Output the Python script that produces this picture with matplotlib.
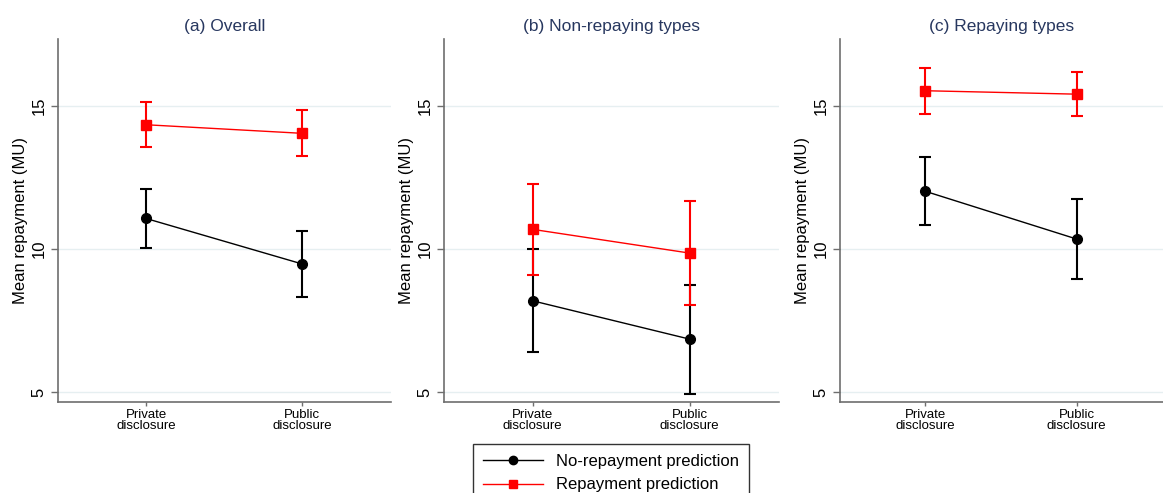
import matplotlib
matplotlib.use("Agg")
import matplotlib.pyplot as plt
from matplotlib.lines import Line2D

plt.rcParams['font.family'] = ['Liberation Sans', 'DejaVu Sans']

categories = ["Private\ndisclosure", "Public\ndisclosure"]
titles = ["(a) Overall", "(b) Non-repaying types", "(c) Repaying types"]
series_names = ["No-repayment prediction", "Repayment prediction"]

# No-repayment prediction (black): mean, lower CI, upper CI per panel
norep_mean = [[11.07, 9.48], [8.19, 6.85], [12.02, 10.35]]
norep_lo = [[10.05, 8.32], [6.40, 4.93], [10.83, 8.94]]
norep_hi = [[12.10, 10.65], [10.00, 8.76], [13.21, 11.74]]

# Repayment prediction (red)
rep_mean = [[14.35, 14.05], [10.69, 9.86], [15.54, 15.42]]
rep_lo = [[13.58, 13.24], [9.10, 8.06], [14.74, 14.64]]
rep_hi = [[15.14, 14.88], [12.28, 11.69], [16.35, 16.19]]

yticks = [5, 10, 15]

W, H = 1163, 493
fig = plt.figure(figsize=(W / 100, H / 100), dpi=100)

boxes = [(58, 391), (444, 779), (840, 1163)]
top_px, bot_px = 39, 402
title_col = "#27375f"
spine_col = "#6e6e6e"

x = [1, 2]
for i, (l, r) in enumerate(boxes):
    ax = fig.add_axes([l / W, 1 - bot_px / H, (r - l) / W, (bot_px - top_px) / H])
    for y in yticks:
        ax.axhline(y, color="#e6eff1", lw=1.0, zorder=0)
    m, lo, hi = norep_mean[i], norep_lo[i], norep_hi[i]
    ax.errorbar(x, m, yerr=[[m[k] - lo[k] for k in range(2)], [hi[k] - m[k] for k in range(2)]],
                color="black", marker="o", markersize=7, lw=1.0, elinewidth=1.5,
                capsize=4, capthick=1.5, zorder=3)
    m, lo, hi = rep_mean[i], rep_lo[i], rep_hi[i]
    ax.errorbar(x, m, yerr=[[m[k] - lo[k] for k in range(2)], [hi[k] - m[k] for k in range(2)]],
                color="red", marker="s", markersize=7, lw=1.0, elinewidth=1.5,
                capsize=4, capthick=1.5, zorder=4)
    ax.set_xlim(0.435, 2.57)
    ax.set_ylim(4.65, 17.35)
    ax.set_xticks(x)
    ax.set_xticklabels(categories, fontsize=9.5, linespacing=0.95)
    ax.set_yticks(yticks)
    ax.set_yticklabels([str(v) for v in yticks], rotation=90, va="center", fontsize=12)
    ax.tick_params(axis="y", length=5, width=1, color=spine_col, pad=3)
    ax.tick_params(axis="x", length=3, width=1, color=spine_col, pad=2)
    for s in ["top", "right"]:
        ax.spines[s].set_visible(False)
    for s in ["left", "bottom"]:
        ax.spines[s].set_color(spine_col)
        ax.spines[s].set_linewidth(1.2)
    ax.set_ylabel("Mean repayment (MU)", fontsize=12, labelpad=3)
    ax.set_title(titles[i], color=title_col, fontsize=12.5, pad=6)

handles = [
    Line2D([], [], color="black", marker="o", markersize=6, lw=1.0),
    Line2D([], [], color="red", marker="s", markersize=6, lw=1.0),
]
leg = fig.legend(handles, series_names, loc="upper center", bbox_to_anchor=(611 / W, 1 - 444 / H),
                 fontsize=12, frameon=True, fancybox=False, edgecolor="black",
                 handlelength=3.6, labelspacing=0.5, borderpad=0.6, handletextpad=0.8,
                 borderaxespad=0)
leg.get_frame().set_linewidth(1.0)

fig.savefig("out.png", dpi=100, facecolor="white")
